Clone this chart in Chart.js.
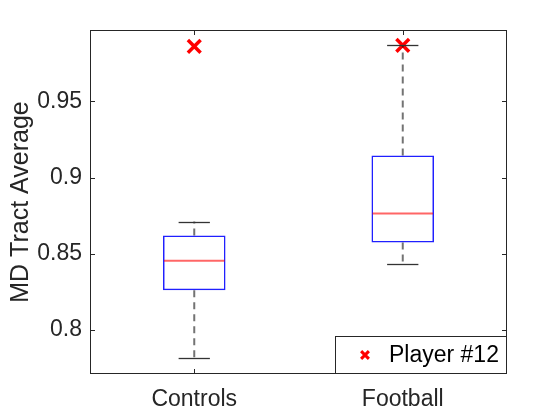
<!DOCTYPE html>
<html>
<head>
<meta charset="utf-8">
<script src="https://cdn.jsdelivr.net/npm/chart.js@4/dist/chart.umd.min.js"></script>
<style>
  html, body { margin: 0; padding: 0; background: #fff; }
  #wrap { width: 560px; height: 420px; }
</style>
</head>
<body>
<div id="wrap"><canvas id="box-chart" width="560" height="420"></canvas></div>
<script>
// box plot values
const groups = ['Controls', 'Football'];
const whiskerLow = [0.7816, 0.8434];
const q1 = [0.8261, 0.8574];
const medians = [0.8455, 0.8764];
const q3 = [0.8620, 0.9145];
const whiskerHigh = [0.8712, 0.9868];
const player12 = [0.9861, 0.9868];
const yTicks = [0.8, 0.85, 0.9, 0.95];
const yMin = 0.7711, yMax = 0.9969;

const axisColor = '#262626';
const fontFamily = '"Liberation Sans", Arial, Helvetica, sans-serif';

// whiskers, caps, medians, inner ticks, frame and legend
const boxExtras = {
  id: 'boxExtras',
  afterDatasetsDraw(chart) {
    const ctx = chart.ctx;
    const x = chart.scales.x, y = chart.scales.y;
    const capHalf = x.width / groups.length * 0.075;
    ctx.save();
    groups.forEach((g, i) => {
      const cx = x.getPixelForValue(i);
      // dashed whiskers
      ctx.strokeStyle = 'rgba(0,0,0,0.55)';
      ctx.lineWidth = 2;
      ctx.setLineDash([7, 5]);
      ctx.beginPath();
      ctx.moveTo(cx, y.getPixelForValue(q3[i]));
      ctx.lineTo(cx, y.getPixelForValue(whiskerHigh[i]));
      ctx.moveTo(cx, y.getPixelForValue(q1[i]));
      ctx.lineTo(cx, y.getPixelForValue(whiskerLow[i]));
      ctx.stroke();
      ctx.setLineDash([]);
      // caps
      ctx.strokeStyle = '#333';
      ctx.lineWidth = 1.3;
      [whiskerHigh[i], whiskerLow[i]].forEach(v => {
        const py = Math.round(y.getPixelForValue(v)) + 0.5;
        ctx.beginPath();
        ctx.moveTo(cx - capHalf, py);
        ctx.lineTo(cx + capHalf, py);
        ctx.stroke();
      });
      // median
      const bar = chart.getDatasetMeta(0).data[i];
      const half = bar.width / 2;
      ctx.strokeStyle = 'rgba(255,0,0,0.6)';
      ctx.lineWidth = 2;
      const my = y.getPixelForValue(medians[i]);
      ctx.beginPath();
      ctx.moveTo(cx - half + 1, my);
      ctx.lineTo(cx + half - 1, my);
      ctx.stroke();
    });
    ctx.restore();
  },
  afterDraw(chart) {
    const ctx = chart.ctx;
    const a = chart.chartArea;
    const x = chart.scales.x, y = chart.scales.y;
    ctx.save();
    ctx.strokeStyle = axisColor;
    ctx.lineWidth = 1;
    const tl = 5;
    ctx.beginPath();
    yTicks.forEach(v => {
      const py = Math.round(y.getPixelForValue(v)) + 0.5;
      ctx.moveTo(a.left, py); ctx.lineTo(a.left + tl, py);
      ctx.moveTo(a.right, py); ctx.lineTo(a.right - tl, py);
    });
    groups.forEach((g, i) => {
      const px = Math.round(x.getPixelForValue(i)) + 0.5;
      ctx.moveTo(px, a.bottom); ctx.lineTo(px, a.bottom - tl);
      ctx.moveTo(px, a.top); ctx.lineTo(px, a.top + tl);
    });
    ctx.stroke();
    ctx.strokeRect(a.left + 0.5, a.top + 0.5, a.right - a.left - 1, a.bottom - a.top - 1);

    // legend in the lower right corner
    const ds = chart.data.datasets[1];
    const bw = 172, bh = 38;
    const lx = a.right - bw, ly = a.bottom - bh;
    ctx.fillStyle = '#fff';
    ctx.fillRect(lx, ly, bw, bh);
    ctx.strokeStyle = axisColor;
    ctx.strokeRect(lx + 0.5, ly + 0.5, bw - 1, bh - 1);
    ctx.strokeStyle = ds.borderColor;
    ctx.fillStyle = ds.backgroundColor;
    ctx.lineWidth = 3;
    Chart.helpers.drawPoint(ctx, {
      pointStyle: 'crossRot', radius: 5.5, borderWidth: 3, rotation: 0
    }, lx + 30, ly + bh / 2);
    ctx.fillStyle = '#000';
    ctx.font = '23px ' + fontFamily;
    ctx.textAlign = 'left';
    ctx.textBaseline = 'middle';
    ctx.fillText(ds.label, lx + 54, ly + bh / 2 + 1);
    ctx.restore();
  }
};

new Chart(document.getElementById('box-chart'), {
  type: 'bar',
  data: {
    labels: groups,
    datasets: [
      {
        type: 'bar',
        label: 'box',
        data: q1.map((v, i) => [v, q3[i]]),
        backgroundColor: 'rgba(0,0,0,0)',
        borderColor: '#2020ff',
        borderWidth: 1.5,
        borderSkipped: false,
        barPercentage: 0.3,
        categoryPercentage: 1.0
      },
      {
        type: 'scatter',
        label: 'Player #12',
        data: player12,
        pointStyle: 'crossRot',
        pointRadius: 9,
        pointBorderWidth: 3.5,
        borderColor: '#ff0000',
        backgroundColor: '#ff0000'
      }
    ]
  },
  options: {
    responsive: false,
    animation: false,
    layout: { padding: { top: 30, right: 53, left: 0, bottom: 0 } },
    plugins: {
      legend: { display: false },
      tooltip: { enabled: false }
    },
    scales: {
      x: {
        offset: true,
        grid: { display: false, drawTicks: false },
        border: { display: false },
        ticks: {
          padding: 12,
          color: axisColor,
          font: { family: fontFamily, size: 23 }
        },
        afterFit: s => { s.height = 46; }
      },
      y: {
        min: yMin,
        max: yMax,
        grid: { display: false, drawTicks: false },
        border: { display: false },
        afterBuildTicks: s => { s.ticks = yTicks.map(v => ({ value: v })); },
        ticks: {
          padding: 8,
          color: axisColor,
          font: { family: fontFamily, size: 23 },
          callback: v => String(v)
        },
        title: {
          display: true,
          text: 'MD Tract Average',
          color: axisColor,
          font: { family: fontFamily, size: 25 },
          padding: { top: 6, bottom: 0 }
        },
        afterFit: s => { s.width = 90; }
      }
    }
  },
  plugins: [boxExtras]
});
</script>
</body>
</html>
